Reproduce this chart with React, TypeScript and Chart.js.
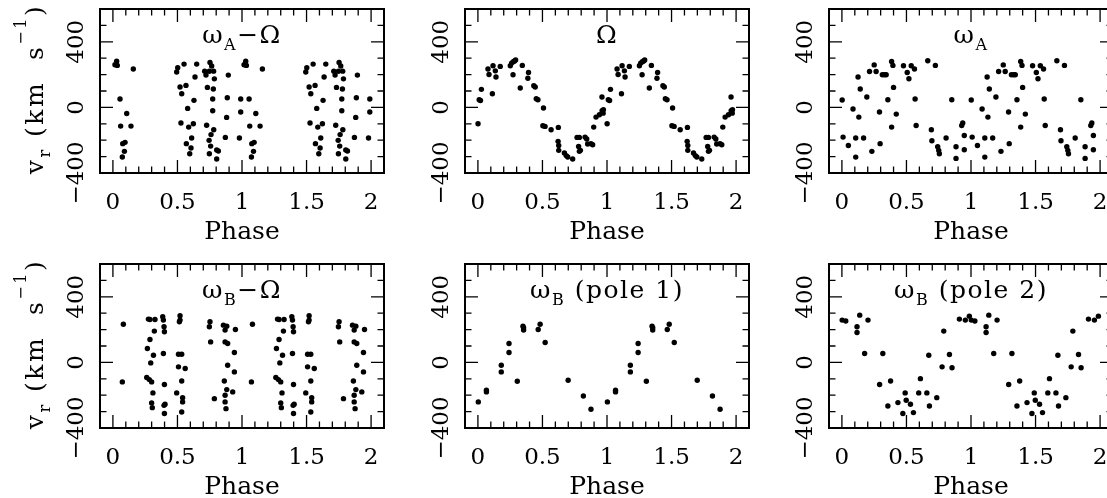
import React, { useEffect, useRef } from "react";
import { Chart, registerables } from "chart.js";
Chart.register(...registerables);

// ---------- axes ----------
const xTickValues = [0, 0.5, 1, 1.5, 2];
const xTickLabels = ["0", "0.5", "1", "1.5", "2"];
const xMinorTicks = [0.1, 0.2, 0.3, 0.4, 0.6, 0.7, 0.8, 0.9, 1.1, 1.2, 1.3, 1.4, 1.6, 1.7, 1.8, 1.9];
const yTickValues = [-400, 0, 400];
const yTickLabels = ["\u2212400", "0", "400"];
const yMinorTicks = [-300, -200, -100, 100, 200, 300, 500];
const xAxisTitle = "Phase";
// [text, kind] kind: 0 normal, 1 subscript, 2 superscript
const yAxisTitle: [string, number][] = [["v", 0], ["r", 1], [" (km  s", 0], ["\u22121", 2], [")", 0]];

// ---------- panel titles ----------
const titleWaMinusOmega: [string, number][] = [["\u03c9", 0], ["A", 1], ["\u2212\u03a9", 0]];
const titleOmega: [string, number][] = [["\u03a9", 0]];
const titleWa: [string, number][] = [["\u03c9", 0], ["A", 1]];
const titleWbMinusOmega: [string, number][] = [["\u03c9", 0], ["B", 1], ["\u2212\u03a9", 0]];
const titleWbPole1: [string, number][] = [["\u03c9", 0], ["B", 1], [" (pole 1)", 0]];
const titleWbPole2: [string, number][] = [["\u03c9", 0], ["B", 1], [" (pole 2)", 0]];

// ---------- data (phase in [0,1), radial velocity km/s); each is plotted at phase and phase+1 ----------
const phaseWaMinusOmega = [0.016, 0.029, 0.034, 0.158, 0.055, 0.107, 0.06, 0.14, 0.076, 0.094, 0.089, 0.073,
  0.494, 0.502, 0.551, 0.649, 0.636, 0.52, 0.533, 0.566, 0.628, 0.579, 0.527, 0.587, 0.623, 0.61, 0.569, 0.605, 0.595,
  0.711, 0.721, 0.752, 0.765, 0.747, 0.78, 0.786, 0.732, 0.778, 0.773, 0.773, 0.726, 0.781, 0.76, 0.745, 0.757, 0.804,
  0.817, 0.747, 0.804, 0.894, 0.886, 0.881, 0.871, 0.99, 0.99, 0.98];
const vrWaMinusOmega = [260, 281, 256, 234, 51, -37, -114, -114, -221, -213, -268, -302,
  216, 242, 264, 264, 185, 124, 83, 134, 43, -6, -95, -120, -100, -187, -221, -248, -283,
  221, 197, 274, 252, 220, 221, 174, 122, 112, 51, -20, -109, -136, -166, -201, -236, -260,
  -266, -283, -315, 197, 59, -61, -183, 51, -28, -187];

const phaseOmega = [0.001, 0.01, 0.02, 0.027, 0.078, 0.086, 0.117, 0.135, 0.14, 0.173, 0.112,
  0.251, 0.261, 0.274, 0.284, 0.292, 0.272, 0.344, 0.328, 0.392, 0.387, 0.433, 0.444, 0.452, 0.465,
  0.508, 0.503, 0.52, 0.567, 0.623, 0.621, 0.626, 0.626, 0.67, 0.684, 0.696, 0.734, 0.768, 0.786,
  0.78, 0.786, 0.794, 0.83, 0.843, 0.85, 0.876, 0.889, 0.897, 0.915, 0.941, 0.962, 0.972, 0.97, 0.961];
const vrOmega = [-100, 47, 42, 110, 234, 201, 254, 223, 185, 250, 83,
  254, 270, 279, 283, 289, 199, 256, 118, 213, 178, 132, 124, 53, 47,
  -4, -112, -116, -136, -122, -207, -232, -262, -278, -294, -302, -315, -183, -183,
  -238, -268, -262, -181, -193, -223, -221, -228, -120, -59, -45, -20, -14, -35, 63];

const phaseWa = [0.002, 0.009, 0.05, 0.086, 0.107, 0.107, 0.125, 0.131, 0.142, 0.168, 0.193, 0.214,
  0.232, 0.25, 0.265, 0.291, 0.296, 0.313, 0.33, 0.343, 0.356, 0.385, 0.395, 0.385, 0.4, 0.421,
  0.477, 0.506, 0.519, 0.537, 0.562, 0.567, 0.575, 0.665, 0.693, 0.697, 0.724, 0.742, 0.75, 0.755,
  0.807, 0.851, 0.884, 0.884, 0.928, 0.936, 0.948, 0.948];
const vrWa = [45, -181, -232, -10, -187, -303, 185, -59, 112, -187, 63, 219,
  -268, 259, 219, -28, -221, 199, 199, 199, 47, 280, 256, -120, 122, -41,
  254, 213, 175, 254, 234, 51, -110, 284, -136, -203, 256, -240, -262, -283,
  -187, 47, -240, -311, -110, -95, -171, -258];

const phaseWbMinusOmega = [0.081, 0.073, 0.275, 0.287, 0.326, 0.321, 0.287, 0.267, 0.314, 0.293, 0.262,
  0.282, 0.3, 0.31, 0.3, 0.305, 0.386, 0.391, 0.396, 0.399, 0.391, 0.399, 0.396, 0.404, 0.399,
  0.52, 0.52, 0.515, 0.508, 0.533, 0.508, 0.56, 0.533, 0.494, 0.54, 0.54, 0.533,
  0.752, 0.747, 0.757, 0.786, 0.856, 0.882, 0.869, 0.869, 0.889, 0.949, 0.941, 0.889, 0.941,
  0.863, 0.882, 0.928, 0.869, 0.869, 0.876];
const vrWbMinusOmega = [233, -119, 264, 262, 262, 191, 140, 85, 44, -3, -92,
  -105, -119, -186, -247, -276, 278, 258, 217, 187, 54, -135, -262, -255, -312,
  284, 258, 248, 50, 50, -27, -37, -113, -186, -215, -241, -302,
  248, 217, 125, -221, 227, 221, 197, 125, 115, 201, 60, -17, -58,
  -113, -166, -180, -200, -241, -282];

const phaseWbPole1 = [0.003, 0.066, 0.066, 0.181, 0.181, 0.241, 0.241, 0.305, 0.349, 0.354, 0.354,
  0.467, 0.482, 0.521, 0.699, 0.817, 0.876];
const vrWbPole1 = [-241, -180, -170, -58, -17, 60, 115, -115, 221, 211, 197, 201, 233, 121, -109, -205, -286];

const phaseWbPole2 = [0.002, 0.03, 0.91, 0.956, 0.987, 0.117, 0.117, 0.138, 0.202, 0.176, 0.317, 0.292,
  0.377, 0.356, 0.434, 0.472, 0.49, 0.498, 0.531, 0.554, 0.595, 0.608, 0.673, 0.658, 0.678, 0.735,
  0.776, 0.789, 0.833, 0.853];
const vrWbPole2 = [258, 252, 264, 258, 282, 217, 182, 288, 258, 54, 54, -135,
  -113, -266, -245, -312, -186, -231, -255, -306, -186, -99, 44, -186, -266, -215,
  -27, 191, 48, -33];

// ---------- layout ----------
const COL_LEFT = [100, 465, 829];
const ROW_TOP = [9, 264];
const BOX_W = 284;
const BOX_H = 164;
const PAD_L = 100;
const PAD_T = 9;
const PAD_R = 12;
const XAXIS_H = 72;
const WORD_FONT = '"DejaVu Serif"';
const NUM_FONT = '"DejaVu Serif"';
const WORD_SIZE = 25;
const NUM_SIZE = 23;

const panels = [
  { title: titleWaMinusOmega, phases: phaseWaMinusOmega, vr: vrWaMinusOmega, row: 0, col: 0 },
  { title: titleOmega, phases: phaseOmega, vr: vrOmega, row: 0, col: 1 },
  { title: titleWa, phases: phaseWa, vr: vrWa, row: 0, col: 2 },
  { title: titleWbMinusOmega, phases: phaseWbMinusOmega, vr: vrWbMinusOmega, row: 1, col: 0 },
  { title: titleWbPole1, phases: phaseWbPole1, vr: vrWbPole1, row: 1, col: 1 },
  { title: titleWbPole2, phases: phaseWbPole2, vr: vrWbPole2, row: 1, col: 2 },
];

function drawRich(ctx: any, segs: [string, number][], cx: number, baseY: number, spacing: number) {
  const small = Math.round(WORD_SIZE * 0.62);
  ctx.letterSpacing = spacing + "px";
  let total = 0;
  const parts = segs.map(([t, k]) => {
    const size = k === 0 ? WORD_SIZE : small;
    ctx.font = `${size}px ${WORD_FONT}`;
    const w = ctx.measureText(t).width;
    total += w;
    return { t, k, size, w };
  });
  let x = cx - total / 2;
  ctx.textAlign = "left";
  ctx.textBaseline = "alphabetic";
  for (const p of parts) {
    ctx.font = `${p.size}px ${WORD_FONT}`;
    const dy = p.k === 1 ? 7 : p.k === 2 ? -17 : 0;
    ctx.fillText(p.t, x, baseY + dy);
    x += p.w;
  }
  ctx.letterSpacing = "0px";
}

function makeFramePlugin(spec: any) {
  return {
    id: "frame" + spec.row + spec.col,
    afterDatasetsDraw(chart: any) {
      const { ctx, chartArea: a, scales } = chart;
      const xs = scales.x;
      const ys = scales.y;
      ctx.save();
      ctx.strokeStyle = "#000";
      ctx.fillStyle = "#000";
      // ticks
      ctx.lineWidth = 1.3;
      ctx.beginPath();
      const xt = (vals: number[], len: number) => {
        for (const v of vals) {
          const px = xs.getPixelForValue(v);
          ctx.moveTo(px, a.bottom);
          ctx.lineTo(px, a.bottom - len);
          ctx.moveTo(px, a.top);
          ctx.lineTo(px, a.top + len);
        }
      };
      const yt = (vals: number[], len: number) => {
        for (const v of vals) {
          const py = ys.getPixelForValue(v);
          ctx.moveTo(a.left, py);
          ctx.lineTo(a.left + len, py);
          ctx.moveTo(a.right, py);
          ctx.lineTo(a.right - len, py);
        }
      };
      xt(xTickValues, 13);
      xt(xMinorTicks, 6.5);
      yt(yTickValues, 13);
      yt(yMinorTicks, 6.5);
      ctx.stroke();
      // box
      ctx.lineWidth = 2;
      ctx.strokeRect(a.left, a.top, a.right - a.left, a.bottom - a.top);
      // y tick labels (rotated)
      ctx.font = `${NUM_SIZE}px ${NUM_FONT}`;
      ctx.textAlign = "center";
      ctx.textBaseline = "alphabetic";
      yTickValues.forEach((v, i) => {
        const py = ys.getPixelForValue(v);
        ctx.save();
        ctx.translate(a.left - 17, py);
        ctx.rotate(-Math.PI / 2);
        ctx.fillText(yTickLabels[i], 0, 0);
        ctx.restore();
      });
      // panel title
      drawRich(ctx, spec.title, xs.getPixelForValue(1), a.top + 34, 1.5);
      // y axis title
      if (spec.col === 0) {
        ctx.save();
        ctx.translate(a.left - 57, (a.top + a.bottom) / 2 - 2);
        ctx.rotate(-Math.PI / 2);
        drawRich(ctx, yAxisTitle, 0, 0, 2.5);
        ctx.restore();
      }
      ctx.restore();
    },
  };
}

function Panel({ spec }: { spec: any }) {
  const ref = useRef<HTMLCanvasElement>(null);
  const W = PAD_L + BOX_W + PAD_R;
  const H = PAD_T + BOX_H + XAXIS_H;
  const left = COL_LEFT[spec.col] - PAD_L;
  const top = ROW_TOP[spec.row] - PAD_T;
  useEffect(() => {
    const canvas = ref.current!;
    const pts: { x: number; y: number }[] = [];
    spec.phases.forEach((p: number, i: number) => {
      pts.push({ x: p, y: spec.vr[i] });
      pts.push({ x: p + 1, y: spec.vr[i] });
    });
    const chart = new Chart(canvas, {
      type: "scatter",
      data: {
        datasets: [
          {
            data: pts,
            pointRadius: 2.7,
            pointHoverRadius: 2.7,
            pointBackgroundColor: "#000",
            pointBorderColor: "#000",
            pointBorderWidth: 0,
            showLine: false,
          },
        ],
      },
      options: {
        animation: false,
        responsive: false,
        devicePixelRatio: 1,
        events: [],
        layout: { padding: { left: PAD_L, top: PAD_T, right: PAD_R, bottom: 0 } },
        plugins: { legend: { display: false }, tooltip: { enabled: false }, title: { display: false } },
        scales: {
          x: {
            type: "linear",
            position: "bottom",
            min: -0.1,
            max: 2.1,
            grid: { display: false },
            border: { display: false },
            afterBuildTicks: (s: any) => {
              s.ticks = xTickValues.map((v) => ({ value: v }));
            },
            afterFit: (s: any) => {
              s.height = XAXIS_H;
            },
            ticks: {
              autoSkip: false,
              maxRotation: 0,
              minRotation: 0,
              padding: 8,
              color: "#000",
              font: { family: NUM_FONT, size: NUM_SIZE, lineHeight: 1.2 },
              callback: (_v: any, i: number) => xTickLabels[i],
            },
            title: {
              display: true,
              text: xAxisTitle,
              color: "#000",
              padding: { top: 0, bottom: 0 },
              font: { family: WORD_FONT, size: WORD_SIZE, lineHeight: 1 },
            },
          },
          y: { type: "linear", min: -400, max: 600, display: false },
        },
      } as any,
      plugins: [makeFramePlugin(spec)],
    });
    return () => chart.destroy();
  }, [spec]);
  return (
    <canvas
      ref={ref}
      width={W}
      height={H}
      style={{ position: "absolute", left, top, width: W, height: H }}
    />
  );
}

export default function App() {
  return (
    <div
      style={{
        position: "absolute",
        left: 0,
        top: 0,
        width: 1107,
        height: 498,
        overflow: "hidden",
        background: "#fff",
      }}
    >
      {panels.map((p, i) => (
        <Panel key={i} spec={p} />
      ))}
    </div>
  );
}
